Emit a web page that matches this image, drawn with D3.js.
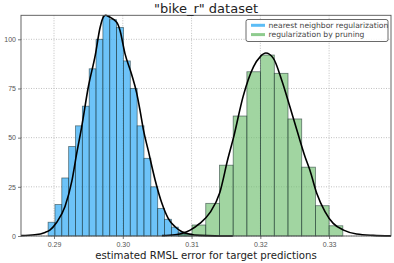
<!DOCTYPE html>
<html>
<head>
<meta charset="utf-8">
<script src="https://cdn.jsdelivr.net/npm/d3@7"></script>
<style>
  body { margin: 0; background: #fff; }
  svg { font-family: "DejaVu Sans", sans-serif; }
  .grid line { stroke: #b0b0b0; stroke-dasharray: 1,1.5; stroke-width: 0.8; }
  .tick text { fill: #555; font-size: 7px; }
</style>
</head>
<body>
<svg id="chart" width="394" height="263"></svg>
<script>
// histogram: nearest neighbor regularization (density)
const nnStart = 0.28914, nnWidth = 0.000996;
const nnHeights = [7, 16, 29.5, 45.5, 56, 66, 85, 100, 112, 110, 106, 89, 75, 56, 39.5, 25, 14, 8.5, 4.5, 2, 1];

// histogram: regularization by pruning (density)
const prStart = 0.30808, prWidth = 0.001993;
const prHeights = [1, 5.6, 16.6, 36, 61, 83.5, 92, 82.7, 59.5, 35, 15.4, 5.2];

// kde curves [x, density]
const nnCurve = [[0.2852,0.2],[0.2872,0.6],[0.2887,1.8],[0.2894,3],[0.2904,7],[0.2916,15],[0.2926,28],
  [0.2933,42],[0.2940,55],[0.2950,76],[0.2960,92],[0.2967,106],[0.2972,111.5],[0.2975,112.2],
  [0.2980,111.5],[0.2987,110],[0.2993,107.5],[0.2996,104.5],[0.3003,93],[0.3013,82],[0.3020,73],
  [0.3025,64],[0.3030,54],[0.3037,43.5],[0.3047,28.5],[0.3057,16.5],[0.3066,9],[0.3076,4.7],
  [0.3086,2.2],[0.3098,0.9],[0.3112,0.3],[0.3134,0.05],[0.3160,0]];
const prCurve = [[0.3057,0.2],[0.3076,0.6],[0.3086,1.3],[0.3098,3],[0.3112,6.4],[0.3127,12],[0.3141,22],
  [0.3153,39.5],[0.3161,50],[0.3175,71],[0.3190,86],[0.3200,91.2],[0.3208,93],[0.3219,90.3],
  [0.3231,79.3],[0.3243,65.7],[0.3253,54],[0.3265,40.3],[0.3272,33.5],[0.3282,21.7],[0.3294,12.4],
  [0.3306,6.4],[0.3321,3],[0.3340,1],[0.3364,0.3],[0.3390,0.05]];

const xTicks = [0.29, 0.30, 0.31, 0.32, 0.33];
const yTicks = [0, 25, 50, 75, 100];
const legendLabels = ["nearest neighbor regularization", "regularization by pruning"];

const svg = d3.select("#chart");
const m = {left: 21, right: 391, top: 15.3, bottom: 236};

const x = d3.scaleLinear().domain([0.2852, 0.3390]).range([m.left, m.right]);
const y = d3.scaleLinear().domain([0, 112.2]).range([m.bottom, m.top]);

// grid
svg.append("g").attr("class", "grid")
  .selectAll("line.v").data(xTicks).enter().append("line")
  .attr("x1", d => x(d)).attr("x2", d => x(d))
  .attr("y1", m.top).attr("y2", m.bottom);
svg.append("g").attr("class", "grid")
  .selectAll("line.h").data(yTicks).enter().append("line")
  .attr("x1", m.left).attr("x2", m.right)
  .attr("y1", d => y(d)).attr("y2", d => y(d));

function drawHist(start, w, heights, fill) {
  svg.append("g").selectAll("rect")
    .data(heights).enter().append("rect")
    .attr("x", (d, i) => x(start + i * w))
    .attr("width", (d, i) => x(start + (i + 1) * w) - x(start + i * w))
    .attr("y", d => y(d))
    .attr("height", d => y(0) - y(d))
    .style("fill", fill)
    .style("stroke", "rgba(20,40,40,0.6)")
    .style("stroke-width", 0.8);
}
drawHist(nnStart, nnWidth, nnHeights, "rgba(60,175,245,0.75)");
drawHist(prStart, prWidth, prHeights, "rgba(110,190,110,0.65)");

const line = d3.line().x(d => x(d[0])).y(d => y(d[1])).curve(d3.curveMonotoneX);
[nnCurve, prCurve].forEach(c => {
  svg.append("path").attr("d", line(c))
    .style("fill", "none").style("stroke", "#000").style("stroke-width", 1.6);
});

// axes
const xAxis = d3.axisBottom(x).tickValues(xTicks).tickFormat(d3.format(".2f")).tickSize(3).tickPadding(3);
const yAxis = d3.axisLeft(y).tickValues(yTicks).tickSize(3).tickPadding(2);
const gx = svg.append("g").attr("transform", `translate(0,${m.bottom})`).call(xAxis);
const gy = svg.append("g").attr("transform", `translate(${m.left},0)`).call(yAxis);
[gx, gy].forEach(g => {
  g.select(".domain").remove();
  g.selectAll(".tick line").style("stroke", "#555").style("stroke-width", 0.8);
});

// frame
svg.append("rect")
  .attr("x", m.left).attr("y", m.top)
  .attr("width", m.right - m.left).attr("height", m.bottom - m.top)
  .style("fill", "none").style("stroke", "#555").style("stroke-width", 0.9);

// title and label
svg.append("text").attr("x", (m.left + m.right) / 2).attr("y", 12.5)
  .attr("text-anchor", "middle").style("font-size", "13px").style("fill", "#222")
  .text('"bike_r" dataset');
svg.append("text").attr("x", (m.left + m.right) / 2).attr("y", 259)
  .attr("text-anchor", "middle").style("font-size", "10.2px").style("fill", "#222")
  .text("estimated RMSL error for target predictions");

// legend
const lg = svg.append("g").attr("transform", "translate(246,19.5)");
lg.append("rect").attr("width", 142).attr("height", 22).attr("rx", 2)
  .style("fill", "#fff").style("fill-opacity", 0.85)
  .style("stroke", "#444").style("stroke-width", 0.8);
const legendColors = ["#5cbdf6", "#8ecb8e"];
legendLabels.forEach((t, i) => {
  const yy = 5.8 + i * 9.3;
  lg.append("line").attr("x1", 5).attr("x2", 19).attr("y1", yy).attr("y2", yy)
    .style("stroke", legendColors[i]).style("stroke-width", 3);
  lg.append("text").attr("x", 22.5).attr("y", yy + 2.6)
    .style("font-size", "7.6px").style("fill", "#444").text(t);
});
</script>
</body>
</html>
